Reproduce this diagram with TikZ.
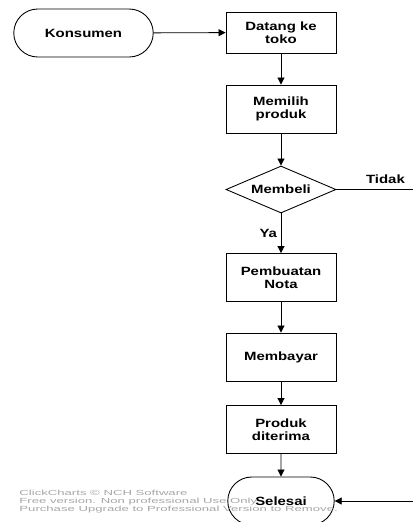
\documentclass[tikz,border=0pt]{standalone}
\usepackage{fontspec}
\setmainfont{Liberation Sans}
\newfontfamily\boxfamily{Liberation Sans}[FakeStretch=1.25]
\newfontfamily\wmfont{Liberation Sans}[FakeStretch=1.78]
\usepackage{tikz}
\usetikzlibrary{arrows.meta,shapes.geometric,shapes.misc}
\definecolor{wmgray}{HTML}{A6A6A6}
\newcommand{\boxfont}{\boxfamily\fontsize{6.8}{7.4}\selectfont\bfseries}
\tikzset{
  terminal/.style={draw,rounded rectangle,minimum height=0.96cm,
    align=center,font=\boxfont,inner sep=1pt},
  process/.style={draw,rectangle,minimum width=2.2cm,minimum height=0.96cm,
    align=center,font=\boxfont,inner sep=1pt},
  decision/.style={draw,diamond,minimum width=2.2cm,minimum height=0.94cm,
    inner sep=0pt},
  flow/.style={-{Triangle[length=4pt,width=4pt]},line width=0.5pt},
  lbl/.style={font=\boxfont,inner sep=1pt}
}
\begin{document}
\begin{tikzpicture}[x=0.02cm,y=-0.02cm,line width=0.5pt]
  \clip (0,0) rectangle (413,522);
  % Start
  \node[terminal,minimum width=2.86cm] (konsumen) at (83.5,33) {Konsumen};
  % Main column
  \node[process,minimum height=0.82cm] (datang) at (281,32.5) {Datang ke\\toko};
  \node[process] (memilih) at (281,109) {Memilih\\produk};
  \node[decision] (membeli) at (281,189.5) {};
  \node[lbl] (membelitext) at (membeli.center) {Membeli};
  \node[process] (nota) at (281,277.5) {Pembuatan\\Nota};
  \node[process] (bayar) at (281,357) {Membayar};
  \node[process] (terima) at (281,429.5) {Produk\\diterima};
  \node[terminal,minimum width=2.2cm] (selesai) at (281,501) {Selesai};
  % Free ends at the right edge
  \coordinate (tidakend) at (413,189.5);
  \coordinate (selesaiin) at (413,501);
  % Connectors
  \draw[flow] (konsumen) -- (datang);
  \draw[flow] (datang) -- (memilih);
  \draw[flow] (memilih) -- (membeli);
  \draw[flow] (membeli) -- node[lbl,left=1pt] {Ya} (nota);
  \draw (membeli.east) -- node[lbl,pos=0.64,above=2pt] {Tidak} (tidakend);
  \draw[flow] (nota) -- (bayar);
  \draw[flow] (bayar) -- (terima);
  \draw[flow] (terima) -- (selesai);
  \draw[flow] (selesaiin) -- (selesai.east);
  % Watermark
  \node[anchor=north west,inner sep=0pt,align=left,text=wmgray,
    font=\wmfont\fontsize{4.2}{4.65}\selectfont] (mark) at (19,489.5)
    {ClickCharts \textcopyright{} NCH Software\\
     Free version. Non professional Use Only.\\
     Purchase Upgrade to Professional Version to Remove.};
\end{tikzpicture}
\end{document}
